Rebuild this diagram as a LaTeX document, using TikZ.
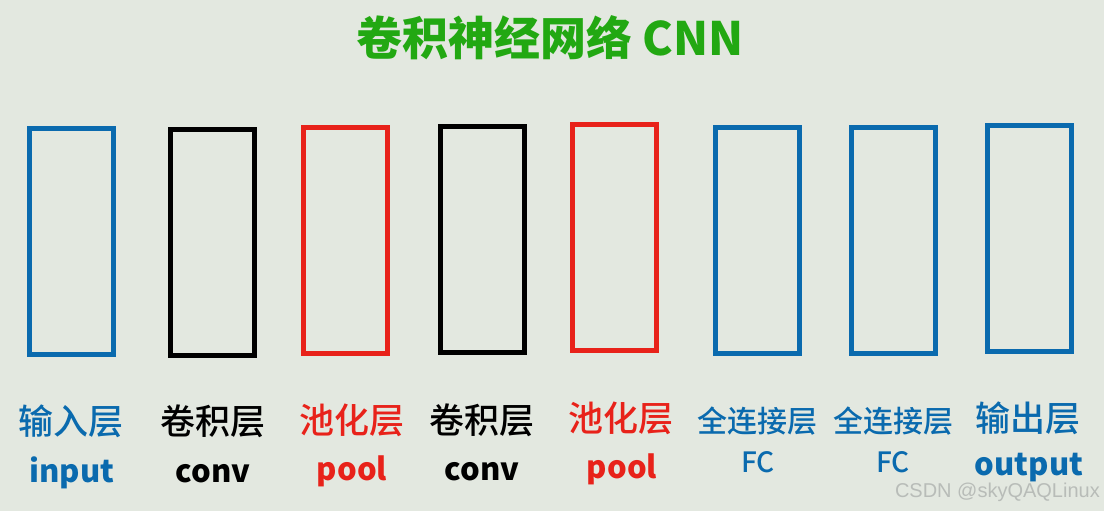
\documentclass[tikz,border=0pt]{standalone}
\usepackage{fontspec}
\newfontfamily\cjk{Noto Sans CJK SC}
\newfontfamily\cjkm{Noto Sans CJK SC Medium}
\newfontfamily\wmfont{Liberation Sans}
\definecolor{bgc}{HTML}{E3E8E0}
\definecolor{cblue}{HTML}{0A6AAE}
\definecolor{cred}{HTML}{E8221A}
\definecolor{cgreen}{HTML}{22A812}
\definecolor{cwm}{HTML}{B8BCB8}
\begin{document}
\begin{tikzpicture}[x=1pt,y=-1pt,
  layerbox/.style={draw,line width=5pt,minimum width=84pt,minimum height=226pt,inner sep=0pt},
  cnlab/.style={font=\cjkm\fontsize{35}{35}\selectfont,inner sep=0pt,anchor=center},
  cnsmall/.style={font=\cjkm\fontsize{30}{30}\selectfont,inner sep=0pt,anchor=center},
  enlab/.style={font=\cjk\bfseries\fontsize{31}{31}\selectfont,inner sep=0pt,anchor=base},
  fclab/.style={font=\cjkm\fontsize{28}{28}\selectfont,inner sep=0pt,anchor=base}]
\fill[bgc] (0,0) rectangle (1104,511);
\useasboundingbox (0,0) rectangle (1104,511);
\node[text=cgreen,font=\cjk\bfseries\fontsize{46}{46}\selectfont,inner sep=0pt] (title) at (550,38) {卷积神经网络 CNN};
% boxes
\node[layerbox,draw=cblue] (b1) at (71.5,241.5) {};
\node[layerbox,draw=black] (b2) at (212.5,242) {};
\node[layerbox,draw=cred] (b3) at (345,240.5) {};
\node[layerbox,draw=black] (b4) at (482,239) {};
\node[layerbox,draw=cred] (b5) at (614,237.5) {};
\node[layerbox,draw=cblue] (b6) at (757.5,240) {};
\node[layerbox,draw=cblue] (b7) at (893.5,240) {};
\node[layerbox,draw=cblue] (b8) at (1029,238) {};
% Chinese labels
\node[cnlab,text=cblue] (c1) at (71,421) {输入层};
\node[cnlab,text=black] (c2) at (213,421) {卷积层};
\node[cnlab,text=cred] (c3) at (352,420) {池化层};
\node[cnlab,text=black] (c4) at (482,420) {卷积层};
\node[cnlab,text=cred] (c5) at (621,418) {池化层};
\node[cnsmall,text=cblue] (c6) at (757,421) {全连接层};
\node[cnsmall,text=cblue] (c7) at (893,421) {全连接层};
\node[cnlab,text=cblue] (c8) at (1028,418) {输出层};
% English labels
\node[enlab,text=cblue] (e1) at (72,482) {input};
\node[enlab,text=black] (e2) at (213,482) {conv};
\node[enlab,text=cred] (e3) at (352,480) {pool};
\node[enlab,text=black] (e4) at (482,480) {conv};
\node[enlab,text=cred] (e5) at (622,478) {pool};
\node[fclab,text=cblue] (e6) at (758,472) {FC};
\node[fclab,text=cblue] (e7) at (893,472) {FC};
\node[enlab,text=cblue] (e8) at (1029,475) {output};
% watermark
\node[text=cwm,font=\wmfont\fontsize{20}{20}\selectfont,inner sep=0pt,anchor=base east] (wm) at (1100,497) {CSDN @skyQAQLinux};
\end{tikzpicture}
\end{document}
